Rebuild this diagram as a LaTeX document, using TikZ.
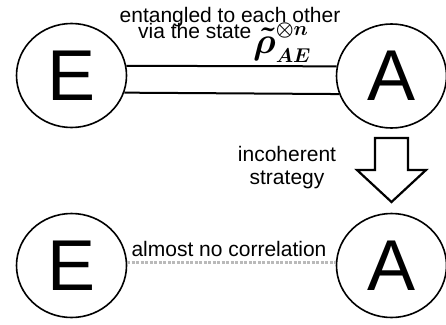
\RequirePackage{fix-cm}
\documentclass[tikz,border=0pt]{standalone}
\usepackage{amsmath}
\usepackage{fontspec}
\setmainfont{Liberation Sans}
\usepackage{tikz}
\usetikzlibrary{shapes}
\DeclareMathSizes{37}{37}{20}{15}

\begin{document}
\begin{tikzpicture}[x=1pt, y=-1pt,
  party/.style={ellipse, draw=black, line width=1.6pt, minimum width=110pt,
    minimum height=104pt, inner sep=0pt, font=\fontsize{72}{72}\selectfont},
  %
  note/.style={inner sep=0pt, anchor=base, font=\fontsize{21}{23}\selectfont},
  %
  bond/.style={draw=black, line width=2pt},
  %
  weak/.style={draw=black!27, line width=3pt, dash pattern=on 3pt off 1.5pt},
  %
  turn/.style={draw=black, line width=2.2pt, fill=white, line join=miter}
  ]

  \useasboundingbox (0,0) rectangle (446,324);

  %%%%%%%%%%%%%%%%%%%%%%%%%%%%%%% entangled pair
  \node [party] (Etop) at (71.5,75.5) {E};
  \node [party] (Atop) at (391.5,76) {A};

  \draw [bond] (Etop.10) -- (Atop.170);
  \draw [bond] (Etop.-18.6) -- (Atop.-161.4);

  \node [note] (entangled) at (230,22) {entangled to each other};
  \node [note, anchor=base west] (via) at (138,38) {via the state};
  \node [inner sep=0pt, anchor=base west, font=\fontsize{37}{37}\selectfont]
    (state) at (253,53)
    {$\boldsymbol{\tilde{\rho}}^{\boldsymbol{\otimes n}}_{\boldsymbol{AE}}$};

  %%%%%%%%%%%%%%%%%%%%%%%%%%%%%%% strategy
  \draw [turn] (375,138) -- (408,138) -- (408,170) -- (426,170)
    -- (391.5,202) -- (357,170) -- (375,170) -- cycle;
  \node [note, anchor=center, align=center] (strategy) at (287,168)
    {incoherent\\strategy};

  %%%%%%%%%%%%%%%%%%%%%%%%%%%%%%% after
  \node [party] (Ebot) at (71.5,265.5) {E};
  \node [party] (Abot) at (391.5,265.5) {A};

  \draw [weak] (Ebot.3) -- (Abot.177);
  \node [note] (nocorr) at (229,256) {almost no correlation};

\end{tikzpicture}
\end{document}
